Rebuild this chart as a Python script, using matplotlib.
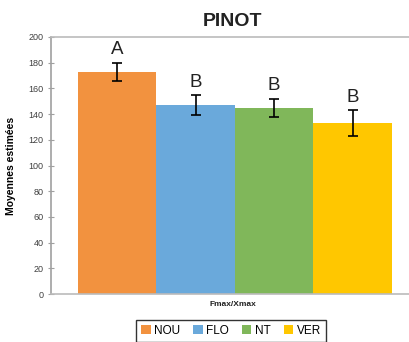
import matplotlib
matplotlib.use("Agg")
import matplotlib.pyplot as plt
from matplotlib.patches import Patch

categories = ["NOU", "FLO", "NT", "VER"]
values = [173, 147, 145, 133]
errors = [7, 7.5, 7, 10]
letters = ["A", "B", "B", "B"]
colors = ["#F2923F", "#6AA9DB", "#80B75A", "#FFC700"]
yticks = [0, 20, 40, 60, 80, 100, 120, 140, 160, 180, 200]

plt.rcParams['font.family'] = ['Liberation Sans', 'DejaVu Sans']

fig = plt.figure(figsize=(4.10, 3.42), dpi=100)
ax = fig.add_axes([51/410, 48/342, 359/410, 257/342])

x = list(range(len(categories)))
ax.bar(x, values, width=1.0, color=colors, zorder=2)
ax.errorbar(x, values, yerr=errors, fmt='none', ecolor='black', elinewidth=1.2,
            capsize=3.5, capthick=1.2, zorder=3)
for xi, v, e, l in zip(x, values, errors, letters):
    ax.text(xi, v + e + 3.5, l, ha='center', va='bottom', fontsize=13.5, color='#222222')

ax.set_xlim(-0.844, 3.73)
ax.set_ylim(0, 200)
ax.set_yticks(yticks)
ax.set_xticks([])
ax.tick_params(axis='y', direction='inout', length=5, width=0.8, color='#A0A0A0',
               labelsize=6.5, labelcolor='#404040', pad=3)
ax.spines['right'].set_visible(False)
for s in ['left', 'bottom', 'top']:
    ax.spines[s].set_color('#BBBBBB')
    ax.spines[s].set_linewidth(1.2)
ax.spines['left'].set_color('#A0A0A0')

ax.set_ylabel("Moyennes estimées", fontsize=7.5, fontweight='bold')
ax.yaxis.set_label_coords(-0.098, 0.5)
fig.text(233/410, 1 - 22/342, "PINOT", ha='center', va='center', fontsize=14, fontweight='bold',
         color='#222222')
fig.text(233/410, 1 - 305/342, "Fmax/Xmax", ha='center', va='center', fontsize=6,
         fontweight='bold', color='#222222')

handles = [Patch(facecolor=c, edgecolor='none') for c in colors]
leg = fig.legend(handles, categories, loc='center', bbox_to_anchor=(231/410, 1 - 331/342),
                 ncol=4, fontsize=8.5, frameon=True, fancybox=False, handlelength=0.8,
                 handleheight=0.8, handletextpad=0.3, columnspacing=1.1,
                 borderpad=0.45, borderaxespad=0)
leg.get_frame().set_edgecolor('black')
leg.get_frame().set_linewidth(1.0)

fig.savefig("out.png", dpi=100)
